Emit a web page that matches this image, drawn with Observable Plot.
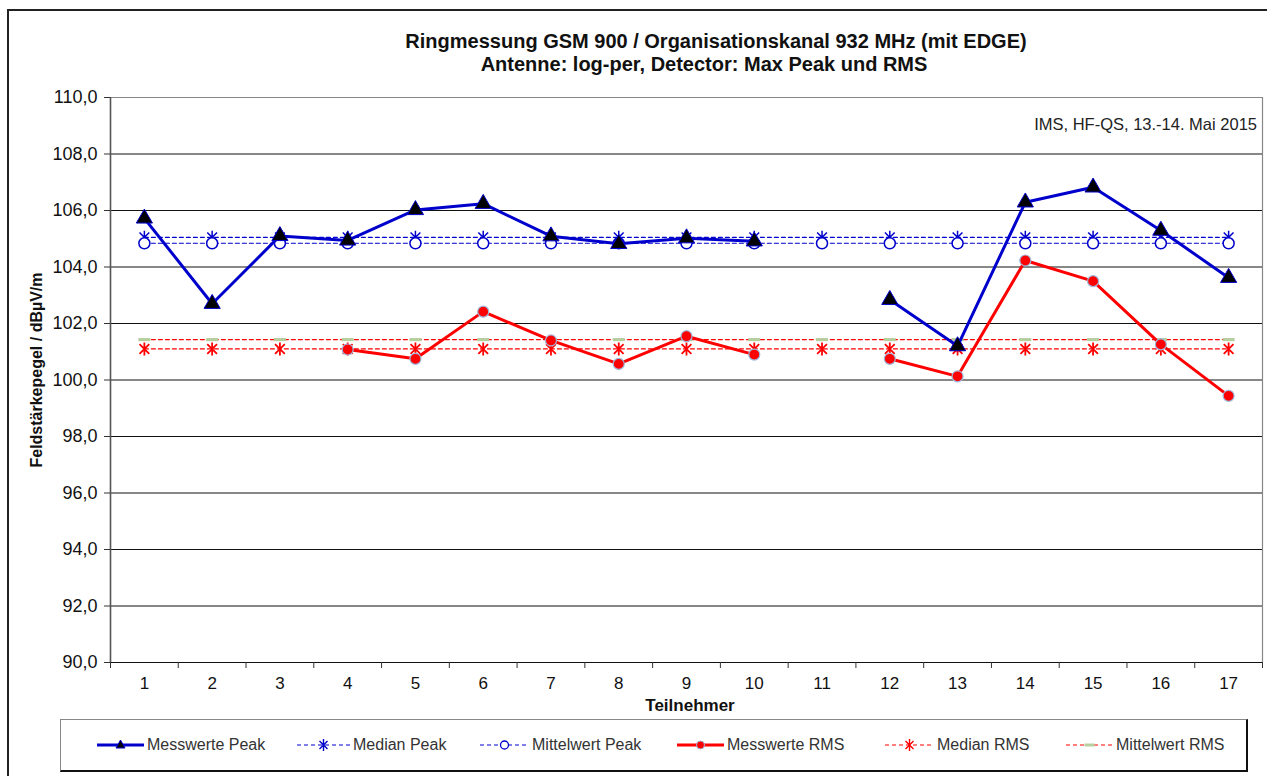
<!DOCTYPE html>
<html><head><meta charset="utf-8">
<script src="https://cdn.jsdelivr.net/npm/d3@7"></script>
<script src="https://cdn.jsdelivr.net/npm/@observablehq/plot@0.6"></script>
<style>
body{margin:0;background:#fff;font-family:"Liberation Sans",Arial,sans-serif;}
#wrap{position:relative;width:1267px;height:776px;overflow:hidden;background:#fff;}
#border{position:absolute;left:7px;top:9px;width:1300px;height:800px;border:2px solid #222;}
#chart{position:absolute;left:0;top:0;}
.title{position:absolute;text-align:center;font-weight:bold;font-size:20px;color:#111;white-space:nowrap;transform:translateX(-50%);}
#note{position:absolute;right:10px;top:115px;font-size:16.5px;color:#222;}
#ylab{position:absolute;left:37px;top:370px;transform:translate(-50%,-50%) rotate(-90deg);font-weight:bold;font-size:16px;white-space:nowrap;color:#111;}
#xlab{position:absolute;left:690px;top:696px;transform:translateX(-50%);font-weight:bold;font-size:17px;color:#111;}
#legend{position:absolute;left:60px;top:719px;width:1185px;height:50px;border:1px solid #888;border-right:2px solid #111;border-bottom:2px solid #111;}
.li{position:absolute;top:735px;height:20px;display:flex;align-items:center;font-size:16px;color:#333;white-space:nowrap;}
.li svg{margin-right:3px;}
</style>
</head><body>
<div id="wrap">
  <div id="border"></div>
  <div class="title" style="top:30px;left:716px">Ringmessung GSM 900 / Organisationskanal 932 MHz (mit EDGE)</div>
  <div class="title" style="top:53px;left:704px">Antenne: log-per, Detector: Max Peak und RMS</div>
  <div id="chart"></div>
  <div id="note">IMS, HF-QS, 13.-14. Mai 2015</div>
  <div id="ylab">Feldstärkepegel / dBµV/m</div>
  <div id="xlab">Teilnehmer</div>
  <div id="legend"></div>
  <div id="items"></div>
</div>
<script>
// ---- data ----
const participants = [1,2,3,4,5,6,7,8,9,10,11,12,13,14,15,16,17];
const peakValues = [105.72,102.7,105.1,104.94,106.02,106.24,105.09,104.82,105.02,104.91,null,102.84,101.2,106.29,106.82,105.29,103.62];
const rmsValues  = [null,null,null,101.08,100.75,102.42,101.4,100.57,101.55,100.9,null,100.75,100.13,104.23,103.5,101.26,99.44];
const medianPeak = 105.05;
const meanPeak = 104.84;
const medianRms = 101.1;
const meanRms = 101.43;
const yTicks = [90,92,94,96,98,100,102,104,106,108,110];
const legendLabels = ["Messwerte Peak","Median Peak","Mittelwert Peak","Messwerte RMS","Median RMS","Mittelwert RMS"];

const BLUE = "#0000cc", RED = "#ff0000", GREEN = "#b7cf9f";

// custom Excel-like markers
const starSym = {draw(ctx, size){const r = Math.sqrt(size/Math.PI); const d = r*0.75;
  ctx.moveTo(0,-r); ctx.lineTo(0,r); ctx.moveTo(-d,-d); ctx.lineTo(d,d); ctx.moveTo(-d,d); ctx.lineTo(d,-d);}};
const dashSym = {draw(ctx, size){const r = Math.sqrt(size/Math.PI); ctx.rect(-r,-1.6,2*r,3.2);}};

const peak = participants.map((p,i)=>({x:p, y:peakValues[i]}));
const rms = participants.map((p,i)=>({x:p, y:rmsValues[i]}));
const cst = v => participants.map(p=>({x:p, y:v}));
const bounds = d3.range(0.5, participants.length + 1, 1);
const fmt = d => d.toFixed(1).replace(".", ",");

const chart = Plot.plot({
  width: 1267, height: 776,
  marginTop: 97, marginBottom: 114, marginLeft: 110, marginRight: 5,
  style: {fontFamily: "Liberation Sans, Arial, sans-serif", fontSize: "17px", color: "#111", background: "transparent"},
  x: {type: "linear", domain: [0.5, 17.5]},
  y: {domain: [90, 110]},
  marks: [
    Plot.ruleY(yTicks.filter(t => t > 90 && t < 110), {stroke: "#111", strokeWidth: 1}),
    Plot.ruleY([110], {stroke: "#888", strokeWidth: 1.2}),
    Plot.ruleX([17.5], {stroke: "#888", strokeWidth: 1.2}),
    Plot.ruleX([0.5], {stroke: "#555", strokeWidth: 1.6}),
    Plot.ruleY([90], {stroke: "#111", strokeWidth: 1.2}),
    Plot.axisY({ticks: yTicks, tickFormat: fmt, tickSize: 6, tickPadding: 7, label: null, stroke: "#333", fontSize: 18}),
    Plot.axisX({ticks: participants, tickSize: 0, tickPadding: 14, label: null, tickFormat: d => String(d)}),
    Plot.axisX({ticks: bounds, tickSize: 6, tickFormat: () => "", label: null, stroke: "#333"}),
    // reference lines
    Plot.line(cst(medianPeak), {x: "x", y: "y", stroke: BLUE, strokeWidth: 1.2, strokeDasharray: "4,3"}),
    Plot.line(cst(meanPeak), {x: "x", y: "y", stroke: BLUE, strokeWidth: 1.2, strokeDasharray: "4,3"}),
    Plot.line(cst(meanRms), {x: "x", y: "y", stroke: RED, strokeWidth: 1.2, strokeDasharray: "4,3"}),
    Plot.line(cst(medianRms), {x: "x", y: "y", stroke: RED, strokeWidth: 1.2, strokeDasharray: "4,3"}),
    Plot.dot(cst(medianPeak), {x: "x", y: "y", symbol: starSym, r: 6.5, stroke: BLUE, strokeWidth: 1.5, fill: "none"}),
    Plot.dot(cst(meanPeak), {x: "x", y: "y", symbol: "circle", r: 5.5, stroke: BLUE, strokeWidth: 1.5, fill: "white"}),
    Plot.dot(cst(meanRms), {x: "x", y: "y", symbol: dashSym, r: 6, fill: GREEN, stroke: "none"}),
    Plot.dot(cst(medianRms), {x: "x", y: "y", symbol: starSym, r: 6.5, stroke: RED, strokeWidth: 1.8, fill: "none"}),
    // measured series
    Plot.line(peak, {x: "x", y: "y", stroke: BLUE, strokeWidth: 3}),
    Plot.dot(peak, {x: "x", y: "y", symbol: "triangle", r: 6, fill: "#000", stroke: BLUE, strokeWidth: 1}),
    Plot.line(rms, {x: "x", y: "y", stroke: RED, strokeWidth: 3}),
    Plot.dot(rms, {x: "x", y: "y", r: 5.5, fill: RED, stroke: "#9db8dc", strokeWidth: 1.2})
  ]
});
document.getElementById("chart").appendChild(chart);

// legend
const itemX = [97, 297, 480, 677, 885, 1066];
const sampleW = [47, 53, 49, 47, 49, 47];
const specs = [
  {stroke: BLUE, w: 3, dash: null, mark: "tri"},
  {stroke: BLUE, w: 1.2, dash: "4,3", mark: "star", mc: BLUE},
  {stroke: BLUE, w: 1.2, dash: "4,3", mark: "circ"},
  {stroke: RED, w: 3, dash: null, mark: "dot"},
  {stroke: RED, w: 1.2, dash: "4,3", mark: "star", mc: RED},
  {stroke: RED, w: 1.2, dash: "4,3", mark: "dash"}
];
const items = document.getElementById("items");
legendLabels.forEach((lab, i) => {
  const s = specs[i], w = sampleW[i], cx = w/2;
  let m = "";
  if (s.mark === "tri") m = `<path d="M${cx},${10-5} L${cx+4.5},${10+3} L${cx-4.5},${10+3}Z" fill="#000" stroke="${BLUE}"/>`;
  if (s.mark === "star") m = `<path d="M${cx},4 V16 M${cx-4},6 L${cx+4},14 M${cx-4},14 L${cx+4},6" stroke="${s.mc}" stroke-width="1.4"/>`;
  if (s.mark === "circ") m = `<circle cx="${cx}" cy="10" r="4" fill="white" stroke="${BLUE}" stroke-width="1.3"/>`;
  if (s.mark === "dot") m = `<circle cx="${cx}" cy="10" r="4" fill="${RED}" stroke="#9db8dc"/>`;
  if (s.mark === "dash") m = `<rect x="${cx-5}" y="8.5" width="10" height="3" fill="${GREEN}"/>`;
  const div = document.createElement("div");
  div.className = "li";
  div.style.left = itemX[i] + "px";
  div.innerHTML = `<svg width="${w}" height="20"><line x1="0" y1="10" x2="${w}" y2="10" stroke="${s.stroke}" stroke-width="${s.w}" ${s.dash ? `stroke-dasharray="${s.dash}"` : ""}/>${m}</svg><span>${lab}</span>`;
  items.appendChild(div);
});
</script>
</body></html>
